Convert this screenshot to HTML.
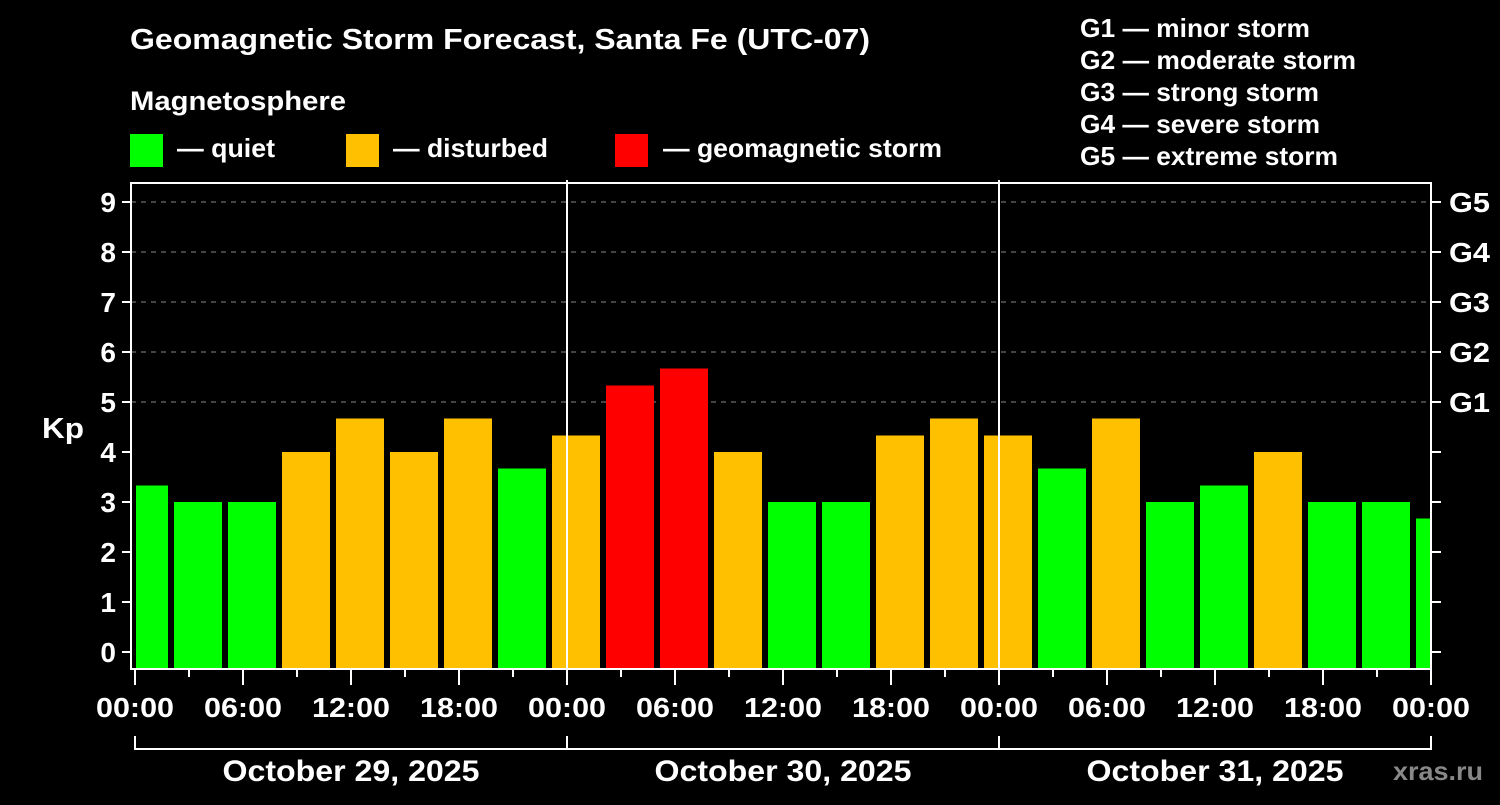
<!DOCTYPE html>
<html><head><meta charset="utf-8"><style>
body{margin:0;background:#000;}
svg text{font-family:"Liberation Sans",Arial,sans-serif;font-weight:bold;fill:#fff;}
</style></head><body>
<svg id="chart" width="1500" height="800" xmlns="http://www.w3.org/2000/svg">
<rect width="1500" height="800" fill="#000"/>
<text x="130" y="49" font-size="29" textLength="740" lengthAdjust="spacingAndGlyphs">Geomagnetic Storm Forecast, Santa Fe (UTC-07)</text>
<text x="130" y="110" font-size="27" textLength="216" lengthAdjust="spacingAndGlyphs">Magnetosphere</text>
<rect x="130" y="134" width="33" height="33" fill="#00ff00"/>
<text x="177" y="157" font-size="26" textLength="98" lengthAdjust="spacingAndGlyphs">— quiet</text>
<rect x="346" y="134" width="33" height="33" fill="#ffc000"/>
<text x="393" y="157" font-size="26" textLength="155" lengthAdjust="spacingAndGlyphs">— disturbed</text>
<rect x="615" y="134" width="33" height="33" fill="#ff0000"/>
<text x="663" y="157" font-size="26" textLength="279" lengthAdjust="spacingAndGlyphs">— geomagnetic storm</text>
<g font-size="26">
<text x="1080" y="37" textLength="230" lengthAdjust="spacingAndGlyphs">G1 — minor storm</text>
<text x="1080" y="69" textLength="276" lengthAdjust="spacingAndGlyphs">G2 — moderate storm</text>
<text x="1080" y="101" textLength="239" lengthAdjust="spacingAndGlyphs">G3 — strong storm</text>
<text x="1080" y="133" textLength="240" lengthAdjust="spacingAndGlyphs">G4 — severe storm</text>
<text x="1080" y="165" textLength="258" lengthAdjust="spacingAndGlyphs">G5 — extreme storm</text>
</g>
<text x="42" y="438" font-size="29" textLength="42" lengthAdjust="spacingAndGlyphs">Kp</text>
<text x="1393" y="780" font-size="26" textLength="90" lengthAdjust="spacingAndGlyphs" style="fill:#888">xras.ru</text>
<g id="plot"></g>
</svg>
<script>
const kpValues=[3.33,3,3,4,4.67,4,4.67,3.67,4.33,5.33,5.67,4,3,3,4.33,4.67,4.33,3.67,4.67,3,3.33,4,3,3,2.67];
const kpTicks=[0,1,2,3,4,5,6,7,8,9];
const gLabels=["G1","G2","G3","G4","G5"];
const hourLabels=["00:00","06:00","12:00","18:00"];
const dayLabels=["October 29, 2025","October 30, 2025","October 31, 2025"];
const NS="http://www.w3.org/2000/svg";
const L=131,R=1431,T=183,B=669,X0=135;
const xs=h=>X0+18*h;
const ys=v=>652-50*v;
const g=document.getElementById('plot');
function mk(t,a){const e=document.createElementNS(NS,t);for(const k in a)e.setAttribute(k,a[k]);g.appendChild(e);return e;}
kpTicks.forEach(v=>{
  if(v>=5){const l=mk('line',{x1:L,x2:R,y1:ys(v),y2:ys(v),stroke:'#888','stroke-dasharray':'5,5','stroke-width':1});
  
  }
  const t=mk('line',{x1:L-9,x2:L,y1:ys(v),y2:ys(v),stroke:'#fff','stroke-width':2});
  
  
  const t2=mk('line',{x1:R,x2:R+10,y1:ys(v),y2:ys(v),stroke:'#fff','stroke-width':2});
  
  
  const tx=mk('text',{x:L-15,y:ys(v)+10,'font-size':28,'text-anchor':'end'});tx.textContent=v;
  
  
});
gLabels.forEach((s,i)=>{const tx=mk('text',{x:R+18,y:ys(5+i)+10,'font-size':28,textLength:41,lengthAdjust:'spacingAndGlyphs'});tx.textContent=s;
  
  });
kpValues.forEach((v,k)=>{
  const c=xs(0.5+3*k);
  const col=v>=5?'#ff0000':(v>=4?'#ffc000':'#00ff00');
  const x1=Math.max(c-24,X0+1),x2=Math.min(c+24,R);
  const b=mk('rect',{x:x1,y:ys(v),width:x2-x1,height:B-1-ys(v),fill:col});
  
  
});
const f=mk('rect',{x:L,y:T,width:R-L,height:B-T,fill:'none',stroke:'#fff','stroke-width':2});


[1,2].forEach(d=>{const l=mk('line',{x1:xs(24*d),x2:xs(24*d),y1:180,y2:B,stroke:'#fff','stroke-width':2});
  
  });
for(let h=0;h<=72;h+=3){
  const long=h%6===0;
  const t=mk('line',{x1:xs(h),x2:xs(h),y1:B,y2:long?685:677,stroke:'#fff','stroke-width':2});
  
  
  if(long){const tx=mk('text',{x:xs(h),y:717,'font-size':28,'text-anchor':'middle',textLength:78,lengthAdjust:'spacingAndGlyphs'});tx.textContent=hourLabels[(h/6)%4];
  
  }
}
const br=mk('path',{d:`M${xs(0)},736V749H${xs(72)}V736M${xs(24)},736V749M${xs(48)},736V749`,fill:'none',stroke:'#fff','stroke-width':2});


dayLabels.forEach((s,i)=>{const tx=mk('text',{x:xs(24*i+12),y:781,'font-size':30,'text-anchor':'middle',textLength:257,lengthAdjust:'spacingAndGlyphs'});tx.textContent=s;
  
  });
</script>
</body></html>
